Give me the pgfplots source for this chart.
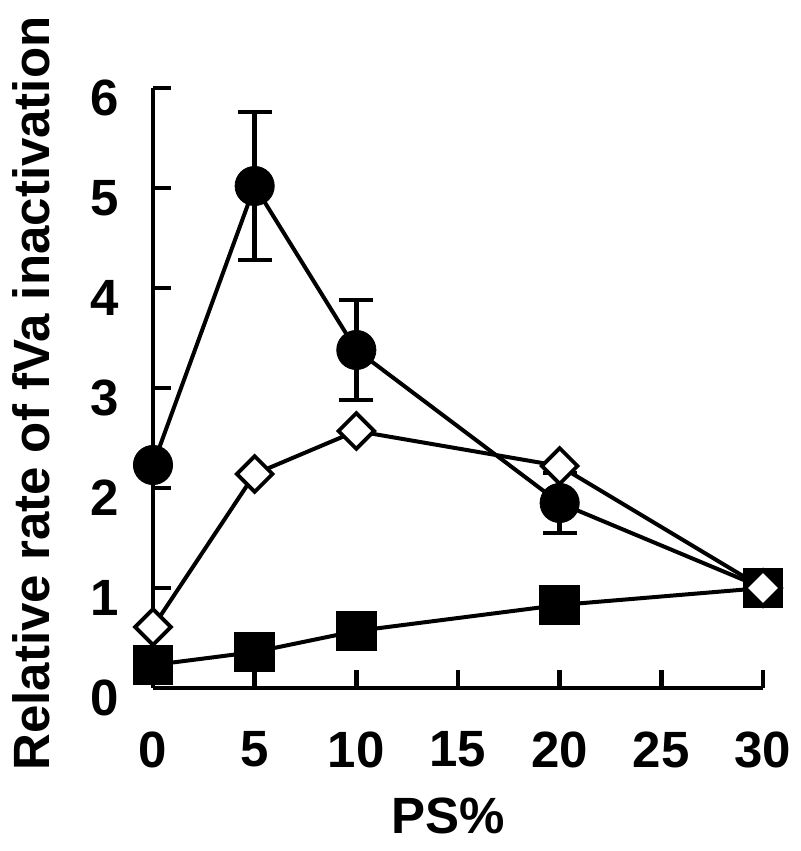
\documentclass[border=0pt]{standalone}
\usepackage{pgfplots}
\pgfplotsset{compat=1.18}
\usepackage{fontspec}
\setmainfont{Liberation Sans}
\begin{document}
\begin{tikzpicture}
\path[use as bounding box] (-76.5pt,-81.5pt) rectangle (323.5pt,344pt);
\begin{axis}[
  anchor=origin, at={(0pt,0pt)},
  scale only axis, width=305pt, height=300pt,
  xmin=0, xmax=30, ymin=0, ymax=6,
  axis x line*=bottom, axis y line*=left,
  axis line style={line width=2.2pt, black},
  xtick={0,5,10,15,20,25,30}, ytick={0,1,2,3,4,5,6},
  tick align=inside, major tick length=9pt,
  tick style={line width=2.2pt, black},
  clip=false,
  /pgf/number format/assume math mode=true,
  tick label style={font=\fontsize{25.5}{30}\selectfont\bfseries, inner sep=0pt},
  xticklabel style={anchor=north, yshift=-21.5pt},
  yticklabel style={anchor=east, xshift=-17pt, yshift=-5pt},
  label style={font=\fontsize{25.5}{30}\selectfont\bfseries, inner sep=0pt},
  xlabel={PS\%},
  xlabel style={at={(axis description cs:0.4836,-0.1817)}, anchor=north},
  ylabel={Relative rate of fVa inactivation},
  ylabel style={at={(axis description cs:-0.1689,0.4908)}, anchor=south},
]
% filled circles with error bars
\addplot[black, line width=2pt, mark=*, mark size=9.8pt,
  mark options={fill=black, line width=0.4pt},
  error bars/.cd, y dir=both, y explicit,
  error bar style={line width=2.2pt, black},
  error mark options={rotate=90, mark size=8.5pt, line width=2.2pt, black}]
  coordinates {
  (0,2.23) +- (0,0)
  (5,5.02) +- (0,0.74)
  (10,3.38) +- (0,0.50)
  (20,1.85) +- (0,0.30)
  (30,1.00) +- (0,0)
  };
% filled squares
\addplot[black, line width=2pt, mark=square*, mark size=9.6pt,
  mark options={fill=black, line width=1pt, rounded corners=2.5pt}]
  coordinates {(0,0.23) (5,0.36) (10,0.57) (20,0.83) (30,1.00)};
% open diamonds
\addplot[black, line width=2pt, mark=square*, mark size=6.3pt,
  mark options={fill=white, line width=1.9pt, rotate=45}]
  coordinates {(0,0.61) (5,2.14) (10,2.57) (20,2.22) (30,1.00)};
\end{axis}
\end{tikzpicture}
\end{document}
